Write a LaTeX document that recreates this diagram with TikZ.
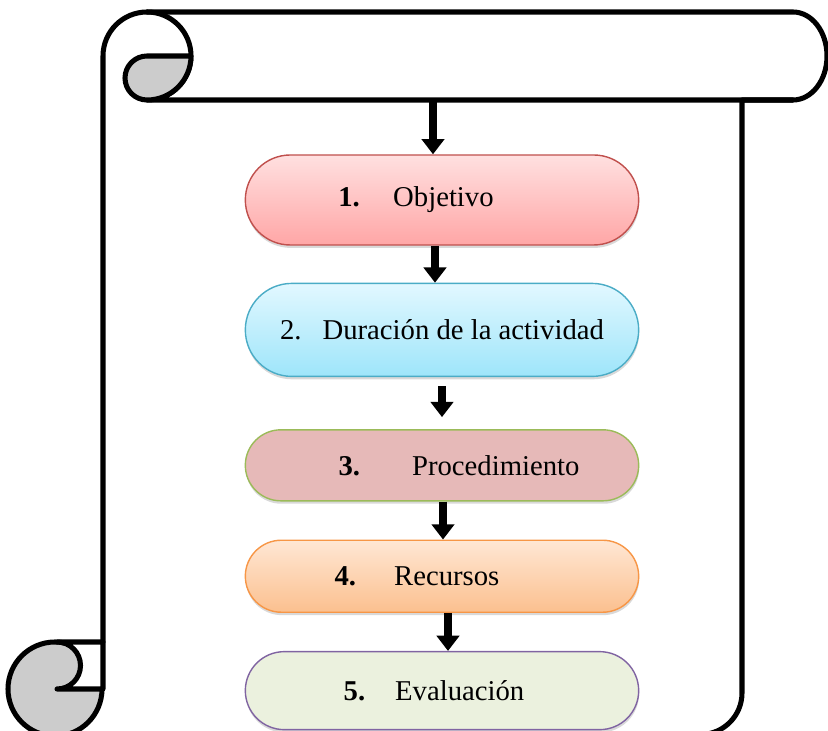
\documentclass[tikz,border=0pt]{standalone}
\usepackage{fontspec}
\setmainfont{Liberation Serif}
\usetikzlibrary{positioning, shapes.misc, shadows, arrows.meta}

\definecolor{curl}{RGB}{204,204,204}
\definecolor{objline}{RGB}{192,80,77}
\definecolor{durline}{RGB}{75,172,198}
\definecolor{procline}{RGB}{155,187,89}
\definecolor{procfill}{RGB}{230,185,184}
\definecolor{recline}{RGB}{247,150,70}
\definecolor{evalline}{RGB}{128,100,162}
\definecolor{evalfill}{RGB}{235,241,222}

\begin{document}
\begin{tikzpicture}[
    x=0.03cm, y=0.03cm,
    scroll/.style={line width=4.3pt, line join=round, line cap=round},
    stepbox/.style={rounded rectangle, draw, line width=1.2pt, inner sep=0pt,
        minimum width=11.8cm, font=\fontsize{24.5}{29}\selectfont,
        drop shadow={shadow xshift=0.4pt, shadow yshift=-2.5pt, opacity=0.3}},
    flowarrow/.style={line width=6pt, -{Triangle[width=19pt, length=13pt]}}
]
    \useasboundingbox (0,0) rectangle (828,731);

    % scroll
    \draw[scroll] (103,89) -- (103,675) arc[start angle=180, end angle=90, radius=44]
        -- (793,719) arc[start angle=90, end angle=-90, x radius=34, y radius=44]
        -- (742,631) -- (742,38) arc[start angle=0, end angle=-90, radius=41.5] -- (102,-3.5);
    \draw[scroll] (147,719) arc[start angle=90, end angle=-90, radius=44] -- (793,631);
    \filldraw[scroll, fill=curl] (147,675) -- (191,675) arc[start angle=0, end angle=-90, radius=44]
        arc[start angle=270, end angle=90, radius=22] -- cycle;
    \filldraw[scroll, fill=curl] (55,42) circle[radius=47];
    \filldraw[scroll, fill=white] (57,89) -- (103,89) -- (103,42) -- (57,42)
        arc[start angle=-90, end angle=90, radius=23.5];

    % steps
    \node[stepbox, draw=objline, top color={rgb,255:red,255;green,224;blue,224},
        bottom color={rgb,255:red,255;green,166;blue,166}, minimum height=2.7cm]
        (obj) at (442,531) {\textbf{1.}\hspace{1cm}Objetivo\hspace*{1.56cm}};
    \node[stepbox, draw=durline, top color={rgb,255:red,226;green,248;blue,255},
        bottom color={rgb,255:red,158;green,229;blue,250}, minimum height=2.79cm,
        below=1.11cm of obj] (dur) {2.\hspace{0.63cm}Duración de la actividad};
    \node[stepbox, draw=procline, fill=procfill, minimum height=2.13cm,
        below=1.56cm of dur] (proc) {\hspace*{1.02cm}\textbf{3.}\hspace{1.56cm}Procedimiento};
    \node[stepbox, draw=recline, top color={rgb,255:red,255;green,231;blue,212},
        bottom color={rgb,255:red,251;green,192;blue,143}, minimum height=2.16cm,
        below=1.14cm of proc] (rec) {\textbf{4.}\hspace{1.14cm}Recursos\hspace*{1.5cm}};
    \node[stepbox, draw=evalline, fill=evalfill, minimum height=2.34cm,
        below=1.14cm of rec] (eval) {\textbf{5.}\hspace{0.9cm}Evaluación\hspace*{0.48cm}};

    % arrows
    \coordinate (band) at (433,631);
    \draw[flowarrow] (band) -- (band |- obj.north);
    \draw[flowarrow] ([xshift=-0.21cm]obj.south) -- ([xshift=-0.21cm]dur.north);
    \draw[flowarrow, shorten <=0.27cm, shorten >=0.36cm] (dur.south) -- (proc.north);
    \draw[flowarrow] ([xshift=0.03cm]proc.south) -- ([xshift=0.03cm]rec.north);
    \draw[flowarrow] ([xshift=0.18cm]rec.south) -- ([xshift=0.18cm]eval.north);

\end{tikzpicture}
\end{document}
